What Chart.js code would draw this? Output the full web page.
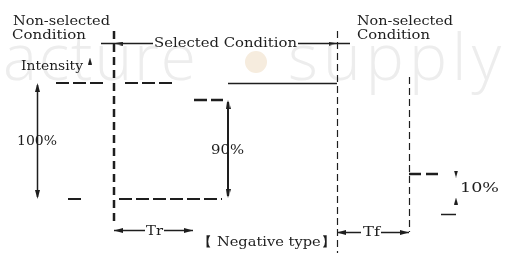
<!DOCTYPE html>
<html><head><meta charset="utf-8">
<style>html,body{margin:0;padding:0;background:#fff;overflow:hidden}canvas{display:block}</style>
<script src="https://cdn.jsdelivr.net/npm/chart.js@4"></script>
</head><body>
<canvas id="c" width="507" height="258"></canvas>
<script>
// ---- diagram values (diagram units) ----
// time marks: selection on, end of rise (Tr), selection off, end of fall (Tf)
const timeMarks = [114, 193, 337, 409];
// intensity levels (top = 0): 100% level, 90% level, 10% level, 0% baseline
const levelMarks = [83, 100, 174, 199];
const levelLabels = ['100%', '90%', '10%'];
const timeLabels = ['Tr', 'Tf'];
const conditionLabels = ['Non-selected', 'Condition', 'Selected Condition', 'Non-selected', 'Condition'];
const captionLabels = ['Intensity', '【 Negative type】'];
const watermarkWords = ['acture', 'supply'];

const [tOn, tRise, tOff, tFall] = timeMarks;
const [yTop, y90, y10, yBase] = levelMarks;
const ink = '#1e1e1e';

// narrow arrowhead image (points up)
function arrowImg(w, h) {
  const c = document.createElement('canvas');
  c.width = w; c.height = h;
  const g = c.getContext('2d');
  g.fillStyle = ink;
  g.beginPath(); g.moveTo(w / 2, 0); g.lineTo(w, h); g.lineTo(0, h); g.closePath(); g.fill();
  return c;
}
const headBig = arrowImg(5, 9);
const headSmall = arrowImg(4, 7);

function seg(pts, w, dash) {
  return { data: pts.map(([x, y]) => ({ x, y })), showLine: true, borderColor: ink,
    borderWidth: w, borderDash: dash || [], pointRadius: 0, fill: false, tension: 0 };
}
function head(x, y, rot, img) {
  return { data: [{ x, y }], showLine: false, pointStyle: img || headBig, pointRotation: rot,
    pointRadius: 5, pointBackgroundColor: ink, pointBorderWidth: 0 };
}

const datasets = [
  // selection boundaries
  seg([[tOn, 31], [tOn, 224]], 2.5, [8, 5]),
  seg([[tOff + 0.5, 31], [tOff + 0.5, 253]], 1.2, [7, 4]),
  seg([[tFall + 0.5, 77], [tFall + 0.5, 232]], 1.2, [7, 4]),
  // 100% level
  seg([[56, yTop], [104, yTop]], 2, [13, 4]),
  seg([[125, yTop], [172, yTop]], 2, [13, 4]),
  seg([[228, yTop + 0.5], [tOff, yTop + 0.5]], 1.3),
  // baseline
  seg([[68, yBase], [81, yBase]], 2),
  seg([[119, yBase], [222, yBase]], 2, [13, 4]),
  // 90% level
  seg([[194, y90], [223, y90]], 2.5, [13, 4]),
  // 10% level
  seg([[tFall, y10], [440, y10]], 2.5, [12, 5]),
  seg([[441, 214.5], [456, 214.5]], 1.5),
  // 100% arrow
  seg([[37.5, yTop + 2], [37.5, yBase - 2]], 1.5),
  head(37.5, yTop + 4.5, 0), head(37.5, yBase - 4.5, 180),
  // 90% arrow
  seg([[228, y90 + 2], [228, yBase - 3]], 2),
  head(228, y90 + 4.5, 0), head(228, yBase - 5.5, 180),
  // 10% arrows
  head(456, 174, 180, headSmall), head(456, 201, 0, headSmall),
  // intensity arrow
  head(90, 61, 0, headSmall),
  // selected condition arrow
  seg([[101, 43.5], [153, 43.5]], 1.5),
  seg([[298, 43.5], [350, 43.5]], 1.5),
  head(119, 43.5, 270, headSmall), head(332, 43.5, 90, headSmall),
  // Tr arrow
  seg([[tOn, 230.5], [145, 230.5]], 1.5),
  seg([[164, 230.5], [tRise, 230.5]], 1.5),
  head(tOn + 4.5, 230.5, 270), head(tRise - 4.5, 230.5, 90),
  // Tf arrow
  seg([[tOff, 232.5], [361, 232.5]], 1.5),
  seg([[381, 232.5], [tFall, 232.5]], 1.5),
  head(tOff + 4.5, 232.5, 270), head(tFall - 4.5, 232.5, 90)
];

// text layout: [text, left x, baseline y, size, target width]
const texts = [
  [conditionLabels[0], 13, 25, 12.5, 97],
  [conditionLabels[1], 12, 39, 12.5, 74],
  [conditionLabels[2], 154, 47, 12.5, 143],
  [conditionLabels[3], 357, 25, 12.5, 96],
  [conditionLabels[4], 357, 39, 12.5, 73],
  [captionLabels[0], 21, 70, 12.5, 62],
  [levelLabels[0], 17, 145, 12.5, 40],
  [levelLabels[1], 211, 154, 12.5, 33],
  [levelLabels[2], 460, 192, 12.5, 39],
  [timeLabels[0], 146, 235, 12.5, 17],
  [timeLabels[1], 363, 236, 12.5, 17],
  [captionLabels[1], 197, 246, 12.5, 139]
];

function spacedText(ctx, s, x, y, font, target) {
  ctx.font = font;
  ctx.letterSpacing = '0px';
  const w = ctx.measureText(s).width;
  const n = Math.max(1, [...s].length - 1);
  ctx.letterSpacing = ((target - w) / n).toFixed(2) + 'px';
  ctx.fillText(s, x, y);
  ctx.letterSpacing = '0px';
}
function stretchText(ctx, s, x, y, font, target) {
  ctx.font = font;
  const w = ctx.measureText(s).width;
  ctx.save();
  ctx.translate(x, y);
  ctx.scale(target / w, 1);
  ctx.fillText(s, 0, 0);
  ctx.restore();
}

const textPlugin = {
  id: 'texts',
  beforeDatasetsDraw(chart) {
    const { ctx, scales: { x, y } } = chart;
    ctx.save();
    ctx.textBaseline = 'alphabetic'; ctx.textAlign = 'left';
    ctx.fillStyle = '#ededed';
    spacedText(ctx, watermarkWords[0], x.getPixelForValue(3), y.getPixelForValue(80), '300 64px "Open Sans"', 193);
    spacedText(ctx, watermarkWords[1], x.getPixelForValue(288), y.getPixelForValue(80), '300 64px "Open Sans"', 213);
    ctx.fillStyle = '#f6ecde';
    ctx.beginPath(); ctx.arc(x.getPixelForValue(256), y.getPixelForValue(62), 11, 0, Math.PI * 2); ctx.fill();
    ctx.restore();
  },
  afterDatasetsDraw(chart) {
    const { ctx, scales: { x, y } } = chart;
    ctx.save();
    ctx.textBaseline = 'alphabetic'; ctx.textAlign = 'left';
    ctx.fillStyle = ink;
    for (const [s, tx, ty, size, w] of texts) {
      stretchText(ctx, s, x.getPixelForValue(tx), y.getPixelForValue(ty), size + 'px "DejaVu Serif"', w);
    }
    ctx.restore();
  }
};

new Chart(document.getElementById('c'), {
  type: 'scatter',
  data: { datasets },
  options: {
    responsive: false, animation: false, devicePixelRatio: 1,
    layout: { padding: 0, autoPadding: false },
    plugins: { legend: { display: false }, tooltip: { enabled: false } },
    scales: {
      x: { type: 'linear', min: 0, max: 507, display: false },
      y: { type: 'linear', min: 0, max: 258, reverse: true, display: false }
    }
  },
  plugins: [textPlugin]
});
</script>
</body></html>
